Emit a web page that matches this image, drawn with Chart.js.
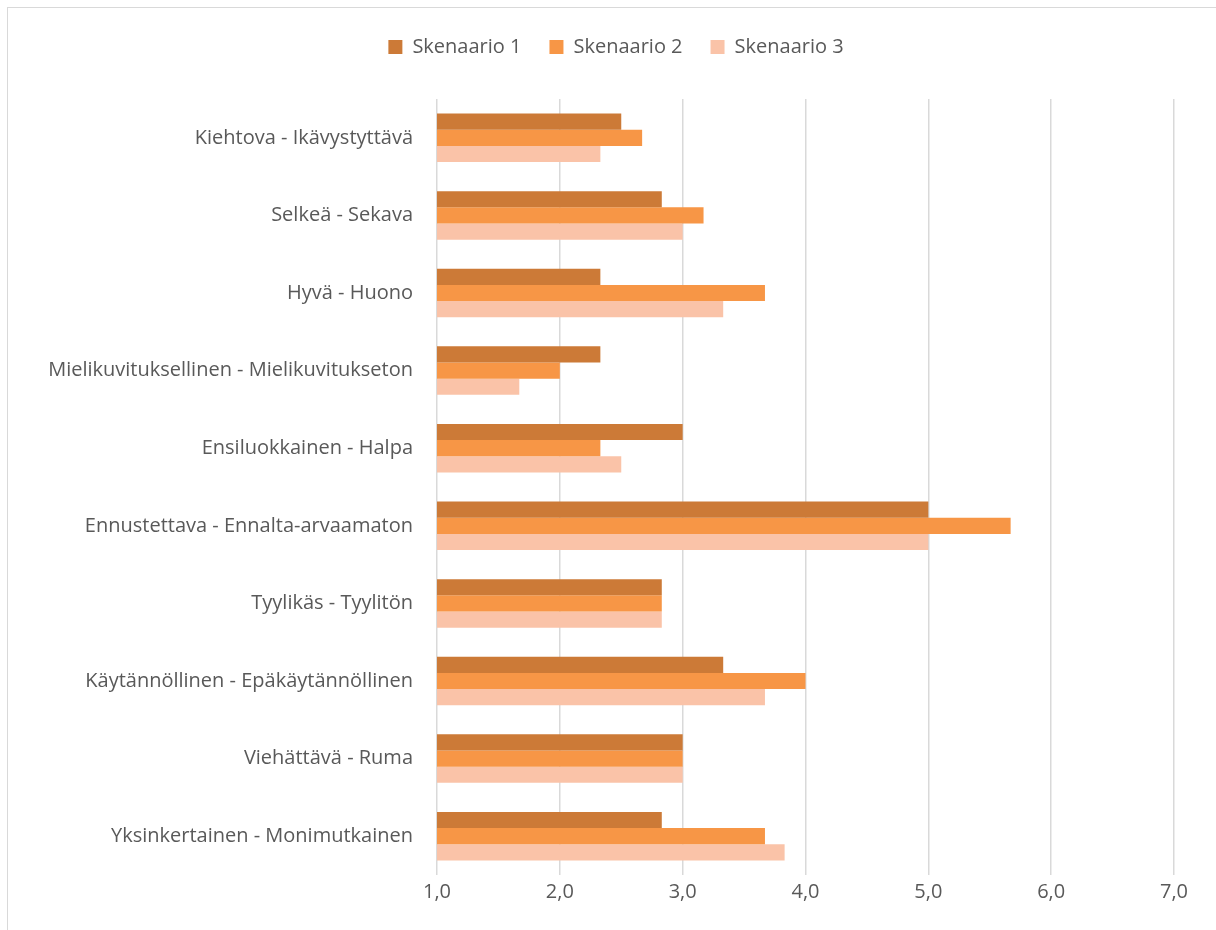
<!DOCTYPE html>
<html>
<head>
<meta charset="utf-8">
<script src="https://cdn.jsdelivr.net/npm/chart.js@4"></script>
<style>
    html, body { margin: 0; padding: 0; background: #fff; overflow: hidden; }
    #wrap { position: absolute; left: 0; top: 0; width: 1216px; height: 930px; }
    #frame { position: absolute; left: 7px; top: 7px; width: 1300px; height: 1000px; border: 1px solid #D9D9D9; }
</style>
</head>
<body>
<div id="frame"></div>
<div id="wrap"><canvas id="myChart" width="1216" height="930"></canvas></div>
<script>
// Kategoriat ylhäältä alas
var categories = [
    "Kiehtova - Ikävystyttävä",
    "Selkeä - Sekava",
    "Hyvä - Huono",
    "Mielikuvituksellinen - Mielikuvitukseton",
    "Ensiluokkainen - Halpa",
    "Ennustettava - Ennalta-arvaamaton",
    "Tyylikäs - Tyylitön",
    "Käytännöllinen - Epäkäytännöllinen",
    "Viehättävä - Ruma",
    "Yksinkertainen - Monimutkainen"
];
var skenaario1 = [2.5, 2.83, 2.33, 2.33, 3.0, 5.0, 2.83, 3.33, 3.0, 2.83];
var skenaario2 = [2.67, 3.17, 3.67, 2.0, 2.33, 5.67, 2.83, 4.0, 3.0, 3.67];
var skenaario3 = [2.33, 3.0, 3.33, 1.67, 2.5, 5.0, 2.83, 3.67, 3.0, 3.83];
var xTicks = [1, 2, 3, 4, 5, 6, 7];

var fontFamily = "'Open Sans', 'Liberation Sans', sans-serif";
var textColor = "#595959";

// lisää tilaa selitteen alle ja siirrä sitä hieman oikealle
var legendSpace = {
    id: "legendSpace",
    beforeInit: function (chart) {
        var origFit = chart.legend.fit;
        chart.legend.fit = function () {
            origFit.bind(chart.legend)();
            this.height += 32;
        };
    },
    afterLayout: function (chart) {
        chart.legend.left += 29;
        chart.legend.right += 29;
    }
};

var ctx = document.getElementById("myChart").getContext("2d");
var chart = new Chart(ctx, {
    type: "bar",
    data: {
        labels: categories,
        datasets: [
            { label: "Skenaario 1", data: skenaario1, backgroundColor: "#CC7A37" },
            { label: "Skenaario 2", data: skenaario2, backgroundColor: "#F79646" },
            { label: "Skenaario 3", data: skenaario3, backgroundColor: "#FAC3A8" }
        ]
    },
    options: {
        indexAxis: "y",
        responsive: false,
        animation: false,
        layout: { padding: { left: 0, right: 42, top: 9, bottom: 21 } },
        datasets: {
            bar: { categoryPercentage: 0.625, barPercentage: 1.0 }
        },
        plugins: {
            legend: {
                position: "top",
                labels: {
                    boxWidth: 14,
                    boxHeight: 14,
                    padding: 28,
                    color: textColor,
                    font: { family: fontFamily, size: 20 }
                }
            },
            tooltip: { enabled: false }
        },
        scales: {
            x: {
                min: 1,
                max: 7,
                afterBuildTicks: function (axis) {
                    axis.ticks = xTicks.map(function (v) { return { value: v }; });
                },
                ticks: {
                    color: textColor,
                    padding: 5,
                    font: { family: fontFamily, size: 20 },
                    callback: function (value) {
                        return value.toFixed(1).replace(".", ",");
                    }
                },
                grid: { color: "#D9D9D9", lineWidth: 1.5, drawTicks: false },
                border: { display: false }
            },
            y: {
                afterFit: function (axis) { axis.width = 437; },
                ticks: {
                    color: textColor,
                    padding: 24,
                    font: { family: fontFamily, size: 20 }
                },
                grid: { display: false, drawTicks: false },
                border: { display: false }
            }
        }
    },
    plugins: [legendSpace]
});
</script>
</body>
</html>
